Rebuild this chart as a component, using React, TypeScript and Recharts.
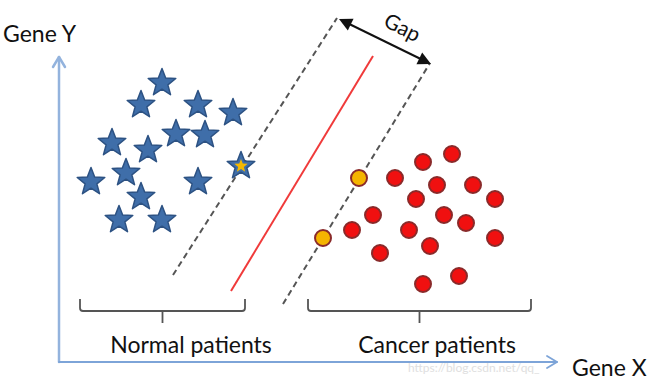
import React from 'react';
import { ScatterChart, Scatter, XAxis, YAxis, ReferenceLine } from 'recharts';

// picture-like coordinates: x to the right, y downward
const normalPatients = [
  { x: 162, y: 83 }, { x: 141, y: 105 }, { x: 198, y: 105 }, { x: 233, y: 113 },
  { x: 112, y: 143 }, { x: 176, y: 134 }, { x: 205, y: 135 }, { x: 148, y: 150 },
  { x: 91, y: 182 }, { x: 126, y: 173 }, { x: 198, y: 182 }, { x: 141, y: 197 },
  { x: 119, y: 220 }, { x: 162, y: 220 },
];
const supportNormal = [{ x: 241, y: 166 }];

const cancerPatients = [
  { x: 452, y: 154 }, { x: 423, y: 162 }, { x: 395, y: 178 }, { x: 437, y: 185 },
  { x: 473, y: 185 }, { x: 416, y: 199 }, { x: 495, y: 199 }, { x: 373, y: 215 },
  { x: 444, y: 215 }, { x: 466, y: 223 }, { x: 352, y: 230 }, { x: 409, y: 230 },
  { x: 495, y: 238 }, { x: 430, y: 246 }, { x: 380, y: 253 }, { x: 459, y: 276 },
  { x: 423, y: 284 },
];
const supportCancer = [{ x: 359, y: 178 }, { x: 323, y: 238 }];

const boundary = [{ x: 231, y: 291 }, { x: 373, y: 56 }];
const marginNormal = [{ x: 173, y: 275 }, { x: 337, y: 18 }];
const marginCancer = [{ x: 283, y: 304 }, { x: 430, y: 63 }];
const gapArrow = [{ x: 339, y: 19 }, { x: 431, y: 64 }];

const axisY = [{ x: 59, y: 362 }, { x: 59, y: 57 }];
const axisX = [{ x: 59, y: 362 }, { x: 557, y: 362 }];

const brackets = [
  { from: 80, to: 245, y: 311 },
  { from: 308, to: 531, y: 311 },
];

const labels = [
  { x: 3, y: 42, text: 'Gene Y', anchor: 'start', angle: 0 },
  { x: 572, y: 376, text: 'Gene X', anchor: 'start', angle: 0 },
  { x: 191, y: 353, text: 'Normal patients', anchor: 'middle', angle: 0 },
  { x: 437, y: 353, text: 'Cancer patients', anchor: 'middle', angle: 0 },
  { x: 399, y: 34, text: 'Gap', anchor: 'middle', angle: 27 },
];
const watermark = [{ x: 408, y: 372, text: 'https://blog.csdn.net/qq_' }];

const FONT = 'Lato, "Open Sans", sans-serif';

const starPath = (cx: number, cy: number, R: number, r: number) => {
  let d = '';
  for (let i = 0; i < 10; i++) {
    const a = ((-90 + i * 36) * Math.PI) / 180;
    const rad = i % 2 ? r : R;
    d += `${i ? 'L' : 'M'}${cx + rad * Math.cos(a)},${cy + rad * Math.sin(a)}`;
  }
  return d + 'Z';
};

const Star = (p: any) => (
  <path d={starPath(p.cx, p.cy, 14.5, 6.2)} fill="#3f6ea9" stroke="#2d5283" strokeWidth={1.5} strokeLinejoin="round" />
);

const GoldStar = (p: any) => (
  <g>
    <path d={starPath(p.cx, p.cy, 14.5, 6.2)} fill="#3f6ea9" stroke="#2d5283" strokeWidth={1.5} strokeLinejoin="round" />
    <path d={starPath(p.cx, p.cy, 7, 3)} fill="#f5b800" />
  </g>
);

const Dot = (p: any) => <circle cx={p.cx} cy={p.cy} r={8} fill="#f01010" stroke="#8a2a2a" strokeWidth={2} />;
const GoldDot = (p: any) => <circle cx={p.cx} cy={p.cy} r={8} fill="#f5b400" stroke="#8a2a2a" strokeWidth={2} />;

const Label = (p: any) => {
  const d = p.payload;
  return (
    <text
      x={p.cx}
      y={p.cy}
      textAnchor={d.anchor}
      fontFamily={FONT}
      fontSize={d.text === 'Gap' ? 21 : 23}
      fill="#111"
      transform={d.angle ? `rotate(${d.angle} ${p.cx} ${p.cy})` : undefined}
    >
      {d.text}
    </text>
  );
};

const Watermark = (p: any) => (
  <text x={p.cx} y={p.cy} fontFamily={FONT} fontSize={12} fill="#d8d8d8" opacity={0.8}>
    {p.payload.text}
  </text>
);

const head = (x: number, y: number, ux: number, uy: number, len: number, w: number) => {
  const bx = x - ux * len;
  const by = y - uy * len;
  return `M${x},${y}L${bx - uy * w},${by + ux * w}L${bx + uy * w},${by - ux * w}Z`;
};

const DoubleArrow = (p: any) => {
  const { x1, y1, x2, y2 } = p;
  const L = Math.hypot(x2 - x1, y2 - y1);
  const ux = (x2 - x1) / L;
  const uy = (y2 - y1) / L;
  return (
    <g>
      <line x1={x1 + ux * 8} y1={y1 + uy * 8} x2={x2 - ux * 8} y2={y2 - uy * 8} stroke="#111" strokeWidth={2} />
      <path d={head(x2, y2, ux, uy, 13, 6.5)} fill="#111" />
      <path d={head(x1, y1, -ux, -uy, 13, 6.5)} fill="#111" />
    </g>
  );
};

const AxisArrow = (p: any) => {
  const { x1, y1, x2, y2 } = p;
  const L = Math.hypot(x2 - x1, y2 - y1);
  const ux = (x2 - x1) / L;
  const uy = (y2 - y1) / L;
  const bx = x2 - ux * 10;
  const by = y2 - uy * 10;
  return (
    <g fill="none" stroke={p.stroke} strokeWidth={p.strokeWidth} strokeLinecap="round" strokeLinejoin="round">
      <line x1={x1} y1={y1} x2={x2} y2={y2} />
      <path d={`M${bx - uy * 6},${by + ux * 6}L${x2},${y2}L${bx + uy * 6},${by - ux * 6}`} />
    </g>
  );
};

const Bracket = (p: any) => {
  const { x1, y1, x2 } = p;
  const mid = (x1 + x2) / 2;
  return (
    <path
      d={`M${x1},${y1 - 12}L${x1},${y1 - 3}Q${x1},${y1} ${x1 + 3},${y1}L${x2 - 3},${y1}Q${x2},${y1} ${x2},${y1 - 3}L${x2},${y1 - 12}M${mid},${y1}L${mid},${y1 + 12}`}
      fill="none"
      stroke="#555"
      strokeWidth={1.8}
    />
  );
};

export default function App() {
  return (
    <div style={{ width: 652, height: 382, background: '#fff' }}>
      <style>{'body{margin:0}'}</style>
      <ScatterChart width={652} height={382} margin={{ top: 0, right: 0, bottom: 0, left: 0 }}>
        <XAxis type="number" dataKey="x" domain={[0, 652]} hide />
        <YAxis type="number" dataKey="y" domain={[0, 382]} reversed hide />

        <ReferenceLine segment={axisY} stroke="#93b3dd" strokeWidth={2.5} shape={AxisArrow} />
        <ReferenceLine segment={axisX} stroke="#7da4d8" strokeWidth={1.8} shape={AxisArrow} />

        <ReferenceLine segment={marginNormal} stroke="#555" strokeWidth={2} strokeDasharray="6 4" />
        <ReferenceLine segment={marginCancer} stroke="#555" strokeWidth={2} strokeDasharray="6 4" />
        <ReferenceLine segment={boundary} stroke="#f03a3a" strokeWidth={2} />
        <ReferenceLine segment={gapArrow} shape={DoubleArrow} />

        {brackets.map((b, i) => (
          <ReferenceLine key={i} segment={[{ x: b.from, y: b.y }, { x: b.to, y: b.y }]} shape={Bracket} />
        ))}

        <Scatter data={normalPatients} shape={Star} isAnimationActive={false} />
        <Scatter data={supportNormal} shape={GoldStar} isAnimationActive={false} />
        <Scatter data={cancerPatients} shape={Dot} isAnimationActive={false} />
        <Scatter data={supportCancer} shape={GoldDot} isAnimationActive={false} />
        <Scatter data={watermark} shape={Watermark} isAnimationActive={false} />
        <Scatter data={labels} shape={Label} isAnimationActive={false} />
      </ScatterChart>
    </div>
  );
}
